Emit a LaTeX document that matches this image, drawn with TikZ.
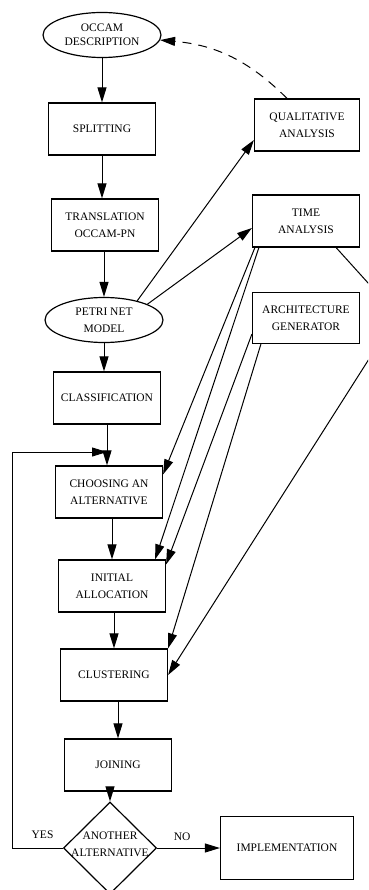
\documentclass[tikz,border=0pt]{standalone}
\usepackage{fontspec}
\setmainfont{Liberation Serif}
\usetikzlibrary{shapes.geometric,arrows.meta}

\begin{document}
\begin{tikzpicture}[x=1pt,y=-1pt,
    font=\fontsize{11.5}{17}\selectfont, line width=1pt,
    >={Triangle[length=15pt,width=9pt]},
    box/.style={draw, line width=1.2pt, align=center, minimum width=107pt, minimum height=52pt, inner sep=0pt},
    oval/.style={draw, line width=1.2pt, ellipse, align=center, minimum width=118pt, minimum height=45pt, inner sep=0pt},
    decision/.style={draw, line width=1.2pt, diamond, minimum width=93pt, minimum height=92pt, inner sep=0pt}]

    \useasboundingbox (0,0) rectangle (368,890);
    \clip (0,0) rectangle (368,890);

    % main column
    \node[oval, font=\fontsize{11.5}{14}\selectfont] (occam) at (102,35) {OCCAM\\DESCRIPTION};
    \node[box] (split) at (102,129) {SPLITTING};
    \node[box] (trans) at (105,225) {TRANSLATION\\OCCAM-PN};
    \node[oval] (petri) at (104,320) {PETRI NET\\MODEL};
    \node[box] (class) at (107,398) {CLASSIFICATION};
    \node[box] (choose) at (109,492) {CHOOSING AN\\ALTERNATIVE};
    \node[box] (init) at (112,586) {INITIAL\\ALLOCATION};
    \node[box] (clust) at (114,675) {CLUSTERING};
    \node[box] (join) at (118,765) {JOINING};
    \node[decision, label={[align=center, yshift=4pt]center:{ANOTHER\\ALTERNATIVE}}] (alt) at (110,848) {};
    \node[box, minimum width=133pt, minimum height=63pt] (impl) at (287,848) {IMPLEMENTATION};

    % side tools
    \node[box, minimum width=105pt] (qual) at (307,125) {QUALITATIVE\\ANALYSIS};
    \node[box] (time) at (306,221) {TIME\\ANALYSIS};
    \node[box, minimum height=51pt] (arch) at (306,318) {ARCHITECTURE\\GENERATOR};

    \coordinate (merge) at (107,452);
    \coordinate (loop) at (12,452);
    \coordinate (bend) at (397,315);

    \draw[->] (occam) -- (occam |- split.north);
    \draw[->] (split) -- (split |- trans.north);
    \draw[->] (trans.south -| petri) -- (petri);
    \draw[->] (petri) -- (petri |- class.north);
    \draw[->] (class) -- (class |- choose.north);
    \draw[->] (choose.south -| init) -- (init);
    \draw[->] (init.south -| clust) -- (clust);
    \draw[->] (clust.south -| join) -- (join);
    \draw[->] (join.south -| alt) -- (alt);
    \draw[->] (alt.west) -| node[pos=0.2, above=6pt] {YES} (loop) -- (merge);
    \draw[->] (alt.east) -- node[pos=0.4, above=4pt] {NO} (impl.west);

    \draw[->, dash pattern=on 9pt off 7pt] ([xshift=-20pt]qual.north) to[out=135, in=-5] (occam.-5);
    \draw[->] (petri.30) -- ([yshift=-15pt]qual.west);
    \draw[->] (petri.20) -- ([yshift=-7pt]time.west);
    \draw[->] ([xshift=3pt]time.south west) -- ([yshift=-9pt]choose.north east);
    \draw[->] ([xshift=7pt]time.south west) -- ([xshift=-11pt]init.north east);
    \draw[->] ([yshift=10pt]arch.south west) -- ([yshift=-5pt]init.north east);
    \draw[->] ([xshift=9pt]arch.south west) -- (clust.north east);
    \draw[->] ([xshift=-24pt]time.south east) -- (bend) -- (clust.east);
\end{tikzpicture}
\end{document}
